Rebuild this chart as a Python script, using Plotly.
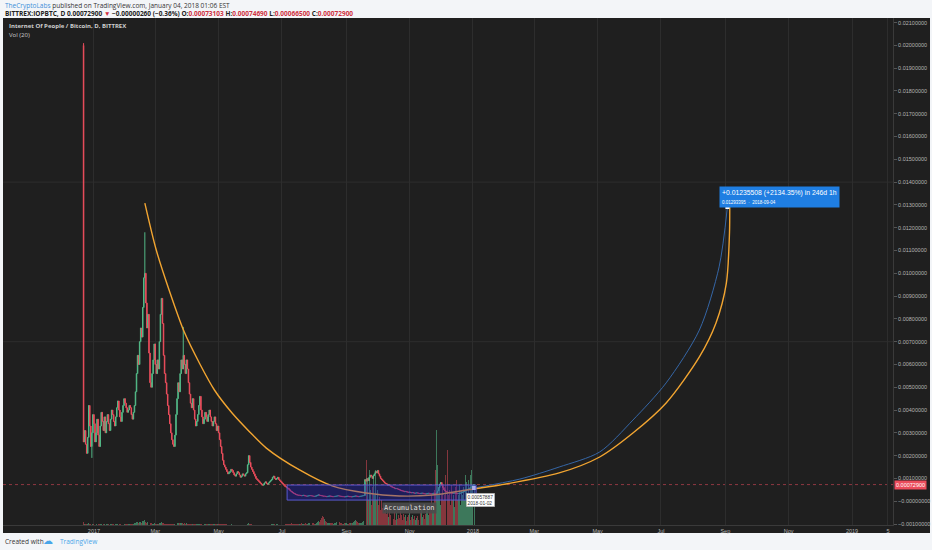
import pandas as pd
import plotly.graph_objects as go

# ---------------- data ----------------
# daily closes, units of 1e-5 BTC, 2016-12-22 .. 2018-01-02
close_e5 = [
    260,
    310, 250, 210, 280, 420, 330, 240, 300, 380, 340,
    260, 300, 360, 290, 240, 330, 390, 350, 310, 370,
    300, 350, 380, 340, 310, 360, 400, 380, 350, 330, 370, 410, 440, 400,
    370, 350, 390, 420, 450, 430, 410, 390, 400, 420, 410, 380, 360, 390,
    420, 480, 560, 640, 600, 700, 760, 720, 850, 980,
    1000, 870, 760, 820, 650, 520,
    500, 560, 620, 690, 600, 560, 620, 580,
    700, 820, 890, 780,
    640, 560, 520, 470, 420, 380, 340, 300, 270, 250, 240,
    290, 380, 450, 520, 480, 560, 620, 580, 640, 600, 560, 620, 580,
    520, 470, 430, 410, 450,
    400, 360, 330, 350, 380, 420, 460, 400, 370, 340, 360, 390, 370, 350,
    380, 400, 370, 350, 330, 350, 370, 340, 310, 330, 300,
    270, 240, 210, 180, 160, 150, 140, 130, 120, 125,
    130, 140, 135, 125, 115, 110, 120, 130, 125, 115, 105, 110, 120, 115, 110, 120, 125,
    160, 200, 170,
    150, 140, 130, 120, 110, 100, 95, 90, 85, 80, 75, 70,
    72, 80, 85, 78, 74, 80, 85, 90,
    95, 105, 110, 100, 95, 100, 105, 95, 90, 85,
    80, 75, 70, 65, 62, 58, 55, 50,
    45, 42, 38, 35, 33, 30, 28, 27, 26,
    26, 25, 24, 25, 26, 24, 23, 22, 23, 24,
    25, 24, 23, 22, 21, 22, 24, 26, 28, 26,
    25, 24, 23, 22, 22, 21, 20, 21, 22, 23,
    22, 21, 20, 20, 21, 22, 23, 24, 23, 22,
    21, 20, 20, 19, 20, 21, 22, 21, 20, 20,
    19, 20, 21, 22, 23, 22, 21, 20, 21, 22,
    23, 24, 25,
    95, 88,
    100, 90, 105, 115, 110, 100, 112, 120, 130, 125, 135, 120, 110, 100, 95, 90,
    85, 80, 78, 75, 70, 72, 68, 65, 62, 60, 58, 55, 56, 54, 52, 50, 48,
    46, 45, 44, 42, 43, 41, 40, 39, 40, 38, 37, 38, 36, 35, 36, 37, 35, 34,
    33, 35, 36, 34, 33, 32, 33, 34, 35, 34, 33, 32, 33, 35, 34, 33, 36,
    45, 60, 75, 82, 70, 60, 50, 45,
    42, 40, 38, 37, 36, 35, 34, 35, 36, 35, 34, 33, 34, 35, 36, 38, 40, 42, 45, 48, 50,
    52, 55, 58, 62, 66, 70, 73,
]
first_open_e5 = 2000
last_date = "2018-01-02"

high_wick_dates = ["2016-12-22", "2017-02-19", "2017-03-28"]
high_wick_values = [0.02010, 0.01180, 0.00765]
low_wick_dates = ["2016-12-30"]
low_wick_values = [0.00190]

volume = [
    6,
    3, 2, 2, 3, 4, 2, 2, 1, 2, 3, 2, 2, 1, 2, 3, 2, 2, 1, 2, 2, 1, 2, 2, 2, 1, 2, 2, 3, 2, 1,
    2, 2, 2, 1, 2, 2, 2, 1, 2, 2, 3, 2, 2, 2, 3, 2, 2, 3,
    4, 5, 6, 7, 5, 6, 7, 5, 8, 9, 10, 7, 5, 6, 5, 4,
    4, 3, 3, 4, 3, 2, 3, 3, 4, 5, 6, 4, 4, 3, 3, 3, 2, 2, 2, 2, 2, 2, 2,
    3, 4, 4, 5, 4, 4, 5, 4, 3, 4, 3, 4, 3, 3, 3, 2, 2, 3,
    2, 2, 2, 2, 3, 3, 3, 2, 2, 2, 2, 3, 2, 2, 2, 3, 2, 2, 2, 2, 2, 2, 2, 2, 2,
    3, 3, 3, 2, 2, 2, 2, 2, 1, 1,
    1, 2, 1, 1, 1, 1, 1, 1, 1, 1, 1, 1, 1, 1, 1, 1, 1,
    3, 4, 2,
    2, 2, 1, 1, 1, 1, 1, 1, 1, 1, 1, 1,
    1, 1, 1, 1, 1, 1, 1, 1,
    2, 2, 2, 2, 1, 2, 2, 1, 1, 1,
    1, 1, 1, 2, 2, 2, 2, 3,
    3, 4, 3, 3, 3, 2, 2, 2, 2,
    3, 3, 4, 3, 2, 3, 4, 3, 3, 4, 4, 3, 5, 5, 3, 3, 5, 7, 9, 7,
    11, 14, 18, 16, 12, 9, 7, 5, 5, 4, 4, 5, 4, 3, 4, 5, 7, 9, 7, 5,
    4, 3, 3, 4, 5, 4, 3, 3, 4, 5, 4, 5, 7, 9, 11, 9, 7, 5, 4, 5,
    5, 7, 9,
    250, 130,
    90, 50, 110, 70, 40, 76, 100, 60, 110, 50, 70, 40, 56, 30, 50, 34,
    40, 26, 44, 22, 30, 16, 36, 20, 24, 12, 26, 10, 24, 12, 20, 14, 28,
    20, 10, 22, 16, 20, 8, 16, 20, 24, 10, 16, 20, 12, 18, 10, 14, 18, 10,
    24, 30, 16, 20, 12, 22, 28, 34, 20, 26, 40, 60, 30, 44, 70, 110, 190,
    120, 60, 80, 40, 60, 80, 50, 60,
    100, 150, 60, 70, 40, 80, 50, 60, 36, 76, 90, 50, 60, 80, 40, 70, 60, 76, 50, 100, 86,
    60, 90, 50, 100, 110, 70, 80,
]

# drawings (time, price)
curve_dates = ["2017-02-19", "2017-03-02", "2017-03-15", "2017-03-29", "2017-04-13",
               "2017-04-27", "2017-05-14", "2017-05-31", "2017-06-16", "2017-07-18",
               "2017-08-19", "2017-09-20", "2017-10-22", "2017-11-23", "2017-12-26",
               "2018-01-27", "2018-03-25", "2018-05-03", "2018-06-04", "2018-07-06",
               "2018-08-07", "2018-08-23", "2018-09-02", "2018-09-05", "2018-09-05 06:00"]
curve_values = [0.01308, 0.01102, 0.00918, 0.00742, 0.00602,
                0.00488, 0.00387, 0.00304, 0.00233, 0.00137,
                0.00066, 0.00036, 0.00023, 0.00027, 0.00049,
                0.00071, 0.00124, 0.00194, 0.00299, 0.00431,
                0.00633, 0.00782, 0.00957, 0.01177, 0.01291]
range_dates = ["2018-01-02", "2018-02-15", "2018-03-25", "2018-05-03", "2018-06-04",
               "2018-07-06", "2018-08-07", "2018-08-26", "2018-09-03"]
range_values = [0.00058, 0.00097, 0.00150, 0.00216, 0.00356,
                0.00519, 0.00751, 0.01028, 0.01291]
box_dates = ["2017-07-06", "2018-01-04"]
box_prices = [0.00005, 0.00071]
last_price = 0.000729

price_ticks = [0.021, 0.020, 0.019, 0.018, 0.017, 0.016, 0.015, 0.014, 0.013, 0.012,
               0.011, 0.010, 0.009, 0.008, 0.007, 0.006, 0.005, 0.004, 0.003, 0.002,
               0.001, 0.0, -0.001]
price_labels = ["0.02100000", "0.02000000", "0.01900000", "0.01800000", "0.01700000",
                "0.01600000", "0.01500000", "0.01400000", "0.01300000", "0.01200000",
                "0.01100000", "0.01000000", "0.00900000", "0.00800000", "0.00700000",
                "0.00600000", "0.00500000", "0.00400000", "0.00300000", "0.00200000",
                "0.00100000", "\u22120.00000000", "\u22120.00100000"]
price_grid = [0.007, 0.014]
time_ticks = ["2017-01-01", "2017-03-01", "2017-05-01", "2017-07-01", "2017-09-01",
              "2017-11-01", "2018-01-01", "2018-03-01", "2018-05-01", "2018-07-01",
              "2018-09-01", "2018-11-01", "2019-01-01", "2019-02-04 14:00"]
time_labels = ["2017", "Mar", "May", "Jul", "Sep", "Nov", "2018", "Mar", "May", "Jul",
               "Sep", "Nov", "2019", "5"]

# ---------------- build ----------------
dates = pd.date_range(end=last_date, periods=len(close_e5), freq="D")
close = [c * 1e-5 for c in close_e5]
open_ = [first_open_e5 * 1e-5] + close[:-1]
high = [max(o, c) for o, c in zip(open_, close)]
low = [min(o, c) for o, c in zip(open_, close)]
dstr = [d.strftime("%Y-%m-%d") for d in dates]
for d, v in zip(high_wick_dates, high_wick_values):
    if d in dstr:
        high[dstr.index(d)] = v
for d, v in zip(low_wick_dates, low_wick_values):
    if d in dstr:
        low[dstr.index(d)] = v

UP = "#53b987"
DN = "#eb4d5c"
BG = "#1f1f1f"
vol_colors = ["rgba(83,185,135,0.58)" if c >= o else "rgba(235,77,92,0.5)"
              for o, c in zip(open_, close)]

L, R, T, B = 3, 39, 18, 25
W, H = 932, 550
PW, PH = W - L - R, H - T - B


def px(x):
    return (x - L) / PW


def py(y):
    return (H - B - y) / PH


fig = go.Figure()
fig.add_trace(go.Bar(x=dates, y=volume, marker=dict(color=vol_colors, line=dict(width=0)),
                     width=0.95 * 86400000, yaxis="y", hoverinfo="skip"))
fig.add_trace(go.Candlestick(x=dates, open=open_, high=high, low=low, close=close,
                             increasing=dict(line=dict(color=UP, width=1), fillcolor=UP),
                             decreasing=dict(line=dict(color=DN, width=1), fillcolor=DN),
                             whiskerwidth=0, yaxis="y2"))
fig.add_trace(go.Scatter(x=range_dates, y=range_values, mode="lines",
                         line=dict(color="#3566a6", width=1, shape="spline", smoothing=0.8),
                         yaxis="y2", hoverinfo="skip"))
fig.add_trace(go.Scatter(x=curve_dates, y=curve_values, mode="lines",
                         line=dict(color="#f2a531", width=1.4, shape="spline", smoothing=0.8),
                         yaxis="y2", hoverinfo="skip"))
fig.add_trace(go.Scatter(x=[range_dates[0], range_dates[-1]], y=[range_values[0], range_values[-1]],
                         mode="markers", marker=dict(color="white", size=4, symbol="square"),
                         yaxis="y2", hoverinfo="skip"))

shapes = [
    dict(type="rect", xref="paper", yref="paper", x0=0, x1=px(930), y0=py(533), y1=1,
         fillcolor=BG, line=dict(width=0), layer="below"),
    dict(type="line", xref="paper", yref="y2", x0=0, x1=1, y0=last_price, y1=last_price,
         line=dict(color="rgba(235,77,92,0.55)", width=1, dash="dot"), layer="below"),
    dict(type="rect", xref="x", yref="y2", x0=box_dates[0], x1=box_dates[1],
         y0=box_prices[0], y1=box_prices[1], fillcolor="rgba(30,30,200,0.36)",
         line=dict(color="#5a5ad0", width=1), layer="above"),
]
for g in price_grid:
    shapes.append(dict(type="line", xref="paper", yref="y2", x0=0, x1=1, y0=g, y1=g,
                       line=dict(color="#2e2e2e", width=1), layer="below"))

RED = "#d0313f"
ann = [
    dict(xref="paper", yref="paper", x=px(3), y=py(5), xanchor="left", yanchor="middle",
         text="<span style='color:#3d8fd8'>TheCryptoLabs</span> published on TradingView.com, January 04, 2018 01:06 EST",
         font=dict(size=6.5, color="#333", family="Open Sans"), showarrow=False),
    dict(xref="paper", yref="paper", x=px(3), y=py(14), xanchor="left", yanchor="middle",
         text=("<b>BITTREX:IOPBTC, D 0.00072900 <span style='color:%s'>\u25bc</span> \u22120.00000260 (\u22120.36%%) "
               "O:<span style='color:%s'>0.00073103</span> H:<span style='color:%s'>0.00074690</span> "
               "L:<span style='color:%s'>0.00066500</span> C:<span style='color:%s'>0.00072900</span></b>")
         % (RED, RED, RED, RED, RED),
         font=dict(size=6.5, color="#222", family="Open Sans"), showarrow=False),
    dict(xref="paper", yref="paper", x=px(7), y=py(26), xanchor="left", yanchor="middle",
         text="<b>Internet Of People / Bitcoin, D, BITTREX</b>",
         font=dict(size=6, color="#cfcfcf", family="Open Sans"), showarrow=False),
    dict(xref="paper", yref="paper", x=px(7), y=py(34.5), xanchor="left", yanchor="middle",
         text="Vol (20)", font=dict(size=6, color="#cfcfcf", family="Open Sans"), showarrow=False),
    dict(xref="paper", yref="paper", x=px(3), y=py(541), xanchor="left", yanchor="middle",
         text="Created with", font=dict(size=6.5, color="#333", family="Open Sans"), showarrow=False),
    dict(xref="paper", yref="paper", x=px(41), y=py(540.5), xanchor="left", yanchor="middle",
         text="\u2601", font=dict(size=10, color="#49a6e9", family="DejaVu Sans"), showarrow=False),
    dict(xref="paper", yref="paper", x=px(58), y=py(541), xanchor="left", yanchor="middle",
         text="TradingView", font=dict(size=6.5, color="#49a6e9", family="Open Sans"), showarrow=False),
    dict(xref="paper", yref="y2", x=1, y=last_price, xanchor="left", yanchor="middle",
         text="0.00072900", bgcolor=DN, borderpad=1, font=dict(size=5.5, color="white", family="Liberation Sans"),
         showarrow=False, xshift=1),
    dict(xref="x", yref="y2", x="2018-08-26", y=0.01383, xanchor="left", yanchor="top",
         text="+0.01235508 (+2134.35%) in 246d 1h<br><span style='font-size:4.5px'>0.01293395  \u00b7  2018-09-04</span>",
         align="left", bgcolor="#1f7ee2", borderpad=2,
         font=dict(size=6.8, color="white", family="Liberation Sans"), showarrow=False),
    dict(xref="x", yref="y2", x="2017-11-01", y=-0.00028, xanchor="center", yanchor="middle",
         text="Accumulation", bgcolor="rgba(75,75,75,0.9)", borderpad=1,
         font=dict(size=7, color="#dddddd", family="DejaVu Sans Mono"), showarrow=False),
    dict(xref="x", yref="y2", x="2017-12-25", y=0.00037, xanchor="left", yanchor="top",
         text="0.00057887<br>2018-01-02", bgcolor="white", borderpad=1, align="left",
         bordercolor="#999", borderwidth=0.5,
         font=dict(size=4.8, color="#333", family="Liberation Sans"), showarrow=False),
]

fig.update_layout(
    width=W, height=H, margin=dict(l=L, r=R, t=T, b=B),
    paper_bgcolor="#f3f5f8", plot_bgcolor=BG, showlegend=False,
    shapes=shapes, annotations=ann, bargap=0,
    xaxis=dict(type="date", range=["2016-10-05 10:00", "2019-02-09 11:00"],
               tickvals=time_ticks, ticktext=time_labels, showgrid=True, gridcolor="#2d2d2d",
               gridwidth=1, ticks="", tickfont=dict(size=5.5, color="#b4b4b4", family="Liberation Sans"),
               rangeslider=dict(visible=False), showline=True, linecolor="#3a3a3a",
               zeroline=False, fixedrange=True),
    yaxis=dict(range=[0, 1014], visible=False, fixedrange=True),
    yaxis2=dict(overlaying="y", side="right", range=[-0.001044, 0.021202],
                tickvals=price_ticks, ticktext=price_labels, showgrid=False,
                ticks="outside", ticklen=3, tickcolor="#555",
                tickfont=dict(size=5.5, color="#b4b4b4", family="Liberation Sans"),
                showline=True, linecolor="#3a3a3a", zeroline=False, fixedrange=True),
)

fig.write_html("out.html", config={"displayModeBar": False},
               post_script="document.body.style.margin='0';document.body.style.background='#f3f5f8';")
